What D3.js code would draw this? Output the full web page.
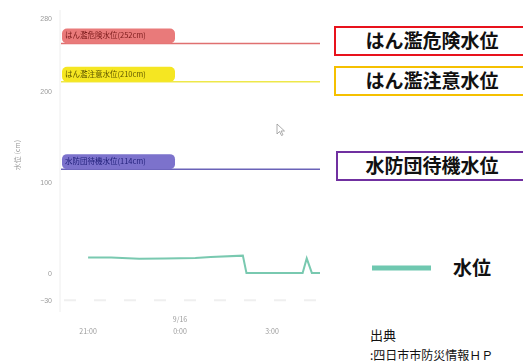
<!DOCTYPE html>
<html lang="ja">
<head>
    <meta charset="UTF-8">
    <title>水位</title>
    <script src="https://d3js.org/d3.v7.min.js"></script>
    <style>
        body {
            margin: 0;
            background-color: #ffffff;
            font-family: "Noto Sans CJK JP", "Noto Sans", sans-serif;
        }
        .tick-label {
            font-size: 7px;
            fill: #9a9a9a;
        }
        .pill-text {
            font-size: 7.5px;
        }
        .box-text {
            font-size: 19px;
            font-weight: bold;
            fill: #111;
        }
    </style>
</head>
<body>
    <svg id="chart" width="523" height="363"></svg>

    <script>
        // Water level readings (cm), 9/15 21:00 -> 9/16 4:30
        const times = ["09-15 21:00", "09-15 21:45", "09-15 22:40", "09-15 23:30", "09-16 00:30",
                       "09-16 01:00", "09-16 02:03", "09-16 02:10", "09-16 04:00", "09-16 04:08",
                       "09-16 04:18", "09-16 04:34"];
        const levels = [17, 17, 15.5, 16, 16.5, 17.5, 19, 0, 0, 16, 0, 0];

        // threshold lines
        const thresholdNames = ["はん濫危険水位", "はん濫注意水位", "水防団待機水位"];
        const thresholdValues = [252, 210, 114];

        const yTicks = [-30, 0, 100, 200, 280];
        const xTicks = ["09-15 21:00", "09-16 00:00", "09-16 03:00"];
        const xTickLabels = [["21:00"], ["9/16", "0:00"], ["3:00"]];

        const parse = d3.timeParse("%m-%d %H:%M");

        const svg = d3.select("#chart");

        const defs = svg.append("defs");
        defs.append("filter").attr("id", "soft")
            .append("feGaussianBlur").attr("stdDeviation", 0.35);

        const x = d3.scaleTime()
            .domain([parse("09-15 20:05"), parse("09-16 04:34")])
            .range([60, 320]);
        const y = d3.scaleLinear()
            .domain([-33, 280])
            .range([303, 18]);

        const g = svg.append("g").attr("filter", "url(#soft)");

        // faint dashed grid line near the bottom
        g.append("line")
            .attr("x1", 64).attr("x2", 320)
            .attr("y1", y(-30)).attr("y2", y(-30))
            .attr("stroke", "#efefef")
            .attr("stroke-width", 2)
            .attr("stroke-dasharray", "12,18");

        // left axis line
        g.append("line")
            .attr("x1", 60).attr("x2", 60)
            .attr("y1", 10).attr("y2", 312)
            .attr("stroke", "#eeeeee");

        // y axis
        const yAxis = d3.axisLeft(y).tickValues(yTicks).tickSize(0).tickPadding(0);
        const yg = g.append("g").attr("transform", "translate(52,0)").call(yAxis);
        yg.select(".domain").remove();
        yg.selectAll("text").attr("class", "tick-label").attr("text-anchor", "end");

        g.append("text")
            .attr("class", "tick-label")
            .attr("transform", "translate(20,155) rotate(-90)")
            .attr("text-anchor", "middle")
            .text("水位 (cm)");

        // x axis labels
        const xg = g.append("g").selectAll("text")
            .data(xTicks)
            .enter()
            .append("text")
            .attr("class", "tick-label")
            .attr("text-anchor", "middle")
            .attr("x", d => x(parse(d)))
            .attr("y", (d, i) => xTickLabels[i].length > 1 ? 322 : 334);
        xg.selectAll("tspan")
            .data((d, i) => xTickLabels[i])
            .enter()
            .append("tspan")
            .attr("x", function() { return this.parentNode.getAttribute("x"); })
            .attr("dy", (d, i) => i === 0 ? 0 : 12)
            .text(d => d);

        // thresholds
        const lineColors = ["#e07070", "#eee84a", "#6a62b8"];
        const pillColors = ["#e97a7a", "#f5e620", "#7b72cc"];
        const pillText = ["#7a1a1a", "#5f5600", "#22207a"];

        const th = g.selectAll(".threshold")
            .data(thresholdValues)
            .enter()
            .append("g");

        th.append("line")
            .attr("x1", 61).attr("x2", 320)
            .attr("y1", d => y(d)).attr("y2", d => y(d))
            .attr("stroke", (d, i) => lineColors[i])
            .attr("stroke-width", 1.5);

        th.append("rect")
            .attr("x", 62).attr("width", 113)
            .attr("y", d => y(d) - 15).attr("height", 15)
            .attr("rx", 5)
            .attr("fill", (d, i) => pillColors[i]);

        th.append("text")
            .attr("class", "pill-text")
            .attr("x", 65)
            .attr("y", d => y(d) - 5)
            .attr("fill", (d, i) => pillText[i])
            .text((d, i) => `${thresholdNames[i]}(${d}cm)`);

        // water level line
        const line = d3.line()
            .x((d, i) => x(parse(times[i])))
            .y(d => y(d));

        g.append("path")
            .datum(levels)
            .attr("fill", "none")
            .attr("stroke", "#79c9b0")
            .attr("stroke-width", 2)
            .attr("d", line);

        // mouse cursor
        g.append("path")
            .attr("d", "M277,124 L277,134 L279.5,131.5 L281.5,135.5 L283,134.8 L281,131 L284.5,131 Z")
            .attr("fill", "#ffffff")
            .attr("stroke", "#8a8a8a")
            .attr("stroke-width", 0.7);

        // right side annotation boxes
        const boxColors = ["#e8121c", "#f5c000", "#7030a0"];
        const boxTop = [27, 67, 152];
        const boxLeft = [335, 335, 337];

        const boxes = svg.selectAll(".box")
            .data(thresholdNames)
            .enter()
            .append("g");

        boxes.append("rect")
            .attr("x", (d, i) => boxLeft[i])
            .attr("y", (d, i) => boxTop[i])
            .attr("width", 200)
            .attr("height", 28)
            .attr("fill", "#ffffff")
            .attr("stroke", (d, i) => boxColors[i])
            .attr("stroke-width", 2);

        boxes.append("text")
            .attr("class", "box-text")
            .attr("x", 432)
            .attr("y", (d, i) => boxTop[i] + 21)
            .attr("text-anchor", "middle")
            .text(d => d);

        // legend
        svg.append("line")
            .attr("x1", 372).attr("x2", 431)
            .attr("y1", 268).attr("y2", 268)
            .attr("stroke", "#6fc8b0")
            .attr("stroke-width", 5);
        svg.append("text")
            .attr("class", "box-text")
            .attr("x", 453).attr("y", 275)
            .text("水位");

        // source
        svg.append("text")
            .attr("x", 370).attr("y", 340)
            .attr("font-size", 13).attr("fill", "#111")
            .text("出典");
        svg.append("text")
            .attr("x", 370).attr("y", 360)
            .attr("font-size", 12).attr("fill", "#111")
            .text(":四日市市防災情報ＨＰ");
    </script>
</body>
</html>
